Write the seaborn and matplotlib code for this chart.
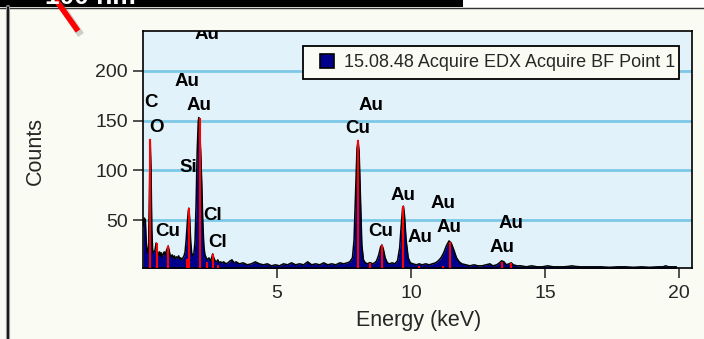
import matplotlib
matplotlib.use("Agg")
import matplotlib.pyplot as plt
import pandas as pd
import seaborn as sns
from matplotlib.lines import Line2D
from matplotlib.patches import Rectangle

# EDX spectrum: channel energy (keV) and counts
energy_kev = [
    0.02, 0.06, 0.10, 0.13, 0.16, 0.19, 0.22, 0.25, 0.28, 0.31, 0.34, 0.37,
    0.40, 0.43, 0.46, 0.50, 0.53, 0.56, 0.60, 0.63, 0.66, 0.70, 0.73, 0.77,
    0.80, 0.84, 0.88, 0.92, 0.95, 0.98, 1.02, 1.06, 1.10, 1.14, 1.18, 1.22,
    1.26, 1.30, 1.34, 1.38, 1.42, 1.46, 1.50, 1.54, 1.58, 1.62, 1.66, 1.70,
    1.72, 1.75, 1.79, 1.83, 1.87, 1.91, 1.95, 1.99, 2.03, 2.07, 2.09, 2.12,
    2.16, 2.20, 2.24, 2.28, 2.32, 2.37, 2.42, 2.47, 2.52, 2.57, 2.61, 2.65,
    2.70, 2.75, 2.80, 2.85, 2.90, 2.96, 3.02, 3.10, 3.18, 3.26, 3.33, 3.40,
    3.48, 3.60, 3.75, 3.90, 4.05, 4.20, 4.35, 4.50, 4.65, 4.80, 4.95, 5.10,
    5.25, 5.40, 5.55, 5.70, 5.85, 6.00, 6.15, 6.30, 6.45, 6.60, 6.75, 6.90,
    7.05, 7.20, 7.35, 7.50, 7.62, 7.72, 7.82, 7.88, 7.94, 7.99, 8.03, 8.07,
    8.12, 8.17, 8.23, 8.30, 8.38, 8.45, 8.50, 8.57, 8.65, 8.72, 8.80, 8.87,
    8.92, 8.97, 9.04, 9.12, 9.20, 9.30, 9.40, 9.50, 9.58, 9.64, 9.69, 9.72,
    9.76, 9.82, 9.90, 9.98, 10.08, 10.20, 10.31, 10.42, 10.55, 10.68, 10.80,
    10.92, 11.02, 11.12, 11.22, 11.32, 11.42, 11.50, 11.60, 11.70, 11.80,
    11.90, 12.05, 12.20, 12.35, 12.50, 12.65, 12.80, 12.95, 13.05, 13.20,
    13.30, 13.38, 13.47, 13.56, 13.66, 13.74, 13.82, 13.95, 14.10, 14.30,
    14.50, 14.70, 14.90, 15.10, 15.30, 15.50, 15.70, 15.90, 16.00, 16.10,
    16.30, 16.50, 16.80, 17.10, 17.40, 17.70, 18.00, 18.30, 18.60, 18.90,
    19.20, 19.40, 19.50, 19.60, 19.90,
]
counts = [
    44, 52, 50, 28, 19, 17, 24, 75, 131, 100, 40, 20,
    17, 18, 20, 27, 22, 17, 15, 18, 14, 17, 13, 16,
    18, 15, 19, 22, 24, 20, 15, 13, 15, 12, 14, 11,
    13, 12, 14, 11, 12, 10, 12, 14, 18, 30, 46, 59,
    62, 52, 28, 16, 14, 17, 28, 65, 118, 148, 153, 142,
    120, 88, 48, 24, 15, 12, 10, 12, 9, 12, 16, 12,
    9, 8, 10, 7, 8, 7, 8, 6, 7, 9, 10, 7,
    8, 6, 7, 5, 6, 8, 6, 5, 6, 4, 5, 4,
    6, 5, 7, 5, 6, 5, 8, 5, 6, 5, 7, 5,
    6, 5, 7, 6, 7, 8, 12, 30, 80, 122, 130, 118,
    70, 25, 10, 7, 6, 7, 7, 6, 7, 9, 15, 23,
    25, 21, 12, 7, 6, 7, 6, 9, 22, 45, 62, 64,
    55, 30, 12, 7, 6, 5, 6, 5, 6, 5, 6,
    7, 9, 12, 17, 24, 29, 27, 20, 12, 8,
    6, 5, 4, 5, 4, 4, 5, 6, 4, 5,
    7, 9, 8, 5, 6, 7, 5, 4, 4, 3,
    4, 3, 3, 4, 3, 3, 3, 3.5, 4, 3.5,
    3, 3, 3, 3, 2.5, 3, 3, 2.5, 3, 2.5,
    3, 3, 4, 3, 3,
]

# Identified X-ray lines (red markers)
line_energy = [0.277, 0.525, 0.93, 1.66, 1.74, 2.12, 2.41, 2.62, 2.82,
               8.04, 8.49, 8.91, 9.71, 10.31, 11.21, 11.44, 13.38, 13.73]
line_height = [131, 27, 24, 11, 62, 153, 8, 16, 5,
               130, 7, 25, 64, 4, 4, 28, 8, 7]

# Element labels
label_text = ["C", "O", "Au", "Au", "Au", "Si", "Cl", "Cl", "Cu",
              "Au", "Cu", "Au", "Cu", "Au", "Au", "Au", "Au", "Au"]
label_energy = [0.32, 0.50, 1.66, 2.11, 2.40, 1.70, 2.59, 2.81, 0.95,
                8.52, 8.03, 9.71, 8.89, 10.34, 11.20, 11.42, 13.73, 13.40]
label_counts = [168, 143, 189, 165, 236, 103, 55, 27, 38,
                165, 142, 75, 38, 32, 67, 43, 47, 22]

legend_label = "15.08.48 Acquire EDX Acquire BF Point 1"
x_ticks = [5, 10, 15, 20]
y_ticks = [50, 100, 150, 200]

sns.set_style("ticks")
plt.rcParams["font.family"] = ["Liberation Sans", "DejaVu Sans"]

W, H = 704, 339
fig = plt.figure(figsize=(W / 100, H / 100), dpi=100, facecolor="#FAFBF3")
ax = fig.add_axes([142.7 / W, 1 - 268.3 / H, 549.3 / W, 237.3 / H])
ax.set_facecolor("#E1F2FB")

df = pd.DataFrame({"Energy (keV)": energy_kev, "Counts": counts})

ax.fill_between(df["Energy (keV)"], df["Counts"], 0, color="#00008C", lw=0, zorder=2)
sns.lineplot(data=df, x="Energy (keV)", y="Counts", ax=ax, color="black",
             lw=1.1, zorder=3, legend=False, sort=False)
ax.vlines(line_energy, 0, line_height, color="#FF0000", lw=1.5, zorder=4)

for t, e, c in zip(label_text, label_energy, label_counts):
    ax.text(e, c, t, ha="center", va="center", fontsize=13.5,
            fontweight="bold", color="black", clip_on=True, zorder=5)

ax.set_xlim(0, 20.48)
ax.set_ylim(1.5, 240)
ax.set_xticks(x_ticks)
ax.set_yticks(y_ticks)
ax.yaxis.grid(True, color="#7CC8E6", lw=2)
ax.xaxis.grid(False)
ax.set_axisbelow(True)
ax.tick_params(axis="both", labelsize=14, length=7, width=1.2, color="#333333",
               direction="out")
ax.tick_params(axis="x", pad=5)
ax.tick_params(axis="y", pad=3.5)
for s in ax.spines.values():
    s.set_visible(True)
    s.set_color("black")
    s.set_linewidth(1.2)

ax.set_xlabel("Energy (keV)", fontsize=15.5, va="center")
ax.set_ylabel("Counts", fontsize=15.5, va="center")
ax.xaxis.set_label_coords(0.503, -0.218)
ax.yaxis.set_label_coords(-0.195, 0.496)

handle = Line2D([], [], marker="s", ls="none", markersize=10,
                markerfacecolor="#00008C", markeredgecolor="black", markeredgewidth=1.2)
leg = ax.legend([handle], [legend_label], loc="upper left",
                bbox_to_anchor=(0.292, 0.802, 0.684, 0.135), mode="expand",
                frameon=True, fancybox=False, edgecolor="black", facecolor="#FAFBF3",
                framealpha=1, fontsize=13, borderpad=0.45, handlelength=1.7,
                handletextpad=0.1, borderaxespad=0)
leg.get_frame().set_linewidth(1.3)
leg.set_zorder(6)

# Header bar, scale text and pointer arrow
fig.patches.append(Rectangle((0, 1 - 7 / H), 463 / W, 7 / H, transform=fig.transFigure,
                             facecolor="black", edgecolor="none", zorder=1))
fig.patches.append(Rectangle((463 / W, 1 - 7 / H), 1 - 463 / W, 7 / H,
                             transform=fig.transFigure, facecolor="white",
                             edgecolor="none", zorder=1))
fig.add_artist(Line2D([0, 1], [1 - 7.5 / H] * 2, transform=fig.transFigure,
                      color="#333333", lw=1.0))
fig.text(45 / W, 1 - 4 / H, "100 nm", color="white", fontsize=19,
         fontweight="bold", ha="left", va="baseline")
fig.add_artist(Line2D([8 / W] * 2, [0, 1 - 7 / H], transform=fig.transFigure,
                      color="#9A9A9A", lw=3.0))
fig.add_artist(Line2D([8 / W] * 2, [0, 1 - 7 / H], transform=fig.transFigure,
                      color="black", lw=1.2))
fig.add_artist(Line2D([60 / W, 81 / W], [1 - 4 / H, 1 - 35 / H], transform=fig.transFigure,
                      color="#666666", alpha=0.3, lw=5, solid_capstyle="butt"))
fig.add_artist(Line2D([56 / W, 78 / W], [1 - 0 / H, 1 - 31 / H], transform=fig.transFigure,
                      color="#FF0000", lw=4.0, solid_capstyle="butt"))

fig.savefig("out.png", dpi=100, facecolor=fig.get_facecolor())
